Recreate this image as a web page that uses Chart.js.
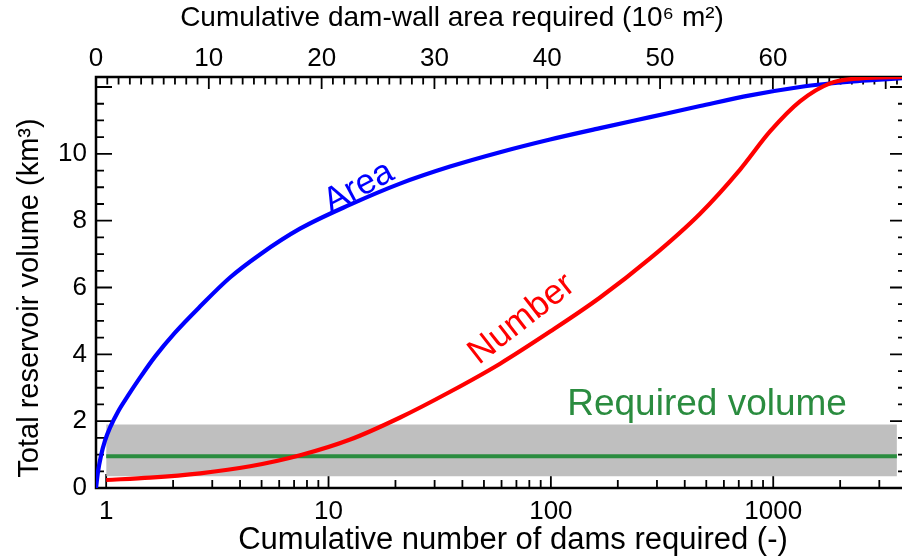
<!DOCTYPE html>
<html>
<head>
<meta charset="utf-8">
<script src="https://cdn.jsdelivr.net/npm/chart.js@4"></script>
<style>
  html, body { margin: 0; padding: 0; background: #fff; overflow: hidden; }
  #wrap { width: 910px; height: 559px; }
</style>
</head>
<body>
<div id="wrap"><canvas id="c" width="910" height="559"></canvas></div>
<script>
// Storage curve against number of dams (bottom, log axis)
const damCount = [1, 1.577, 2.647, 4.442, 7.455, 12.51, 20.99, 35.22, 59.1, 99.2, 166.4, 279.3, 468.7, 709.4, 967.4, 1319, 1800, 2457, 3955];
const numberVolume = [0.24, 0.31, 0.44, 0.65, 0.98, 1.45, 2.11, 2.88, 3.72, 4.68, 5.70, 6.87, 8.21, 9.53, 10.67, 11.57, 12.11, 12.26, 12.3];

// Storage curve against dam-wall area (top axis, 10^6 m2)
const wallArea = [0, 0.177, 0.443, 0.798, 1.241, 1.95, 2.837, 3.901, 5.23, 7.004, 9.22, 11.879, 14.539, 18.085, 22.518, 26.95, 31.383, 35.816, 40.248, 44.681, 49.113, 53.546, 57.979, 62.411, 64.63, 66.844, 69.06, 71.809];
const areaVolume = [0, 0.488, 0.967, 1.416, 1.805, 2.284, 2.763, 3.302, 3.931, 4.65, 5.43, 6.30, 6.99, 7.76, 8.48, 9.11, 9.62, 10.05, 10.43, 10.77, 11.10, 11.43, 11.75, 12.0, 12.09, 12.16, 12.21, 12.27];

// Required volume and its uncertainty band (km3)
const bandDams = [1, 3600];
const requiredVolume = 0.95;
const bandLow = 0.35;
const bandHigh = 1.9;

// Tick labels
const volumeTicks = [0, 2, 4, 6, 8, 10];
const damTicks = [1, 10, 100, 1000];
const areaTicks = [0, 10, 20, 30, 40, 50, 60];

const FONT = '"Liberation Sans", Arial, Helvetica, sans-serif';
const GREEN = '#2a8c3f';

// Inward tick marks on all four sides plus the box frame
const frameTicks = {
  id: 'frameTicks',
  beforeDatasetsDraw(chart) {
    const { ctx, chartArea: a, scales } = chart;
    ctx.save();
    ctx.strokeStyle = '#000';
    ctx.lineWidth = 1.8;
    ctx.beginPath();
    for (let v = 0; v <= 12.01; v += 0.5) {
      const py = scales.y.getPixelForValue(v);
      const len = (Math.abs(v % 2) < 1e-6) ? 16 : 8;
      ctx.moveTo(a.left, py); ctx.lineTo(a.left + len, py);
      ctx.moveTo(a.right, py); ctx.lineTo(a.right - len, py);
    }
    for (let d = 1; d <= 1000; d *= 10) {
      for (let k = 1; k <= 9; k++) {
        const v = d * k;
        if (v > scales.x.max) break;
        const px = scales.x.getPixelForValue(v);
        const len = k === 1 ? 14 : 8;
        ctx.moveTo(px, a.bottom); ctx.lineTo(px, a.bottom - len);
      }
    }
    for (let v = 0; v <= 71; v += 1) {
      const px = scales.x2.getPixelForValue(v);
      const len = v % 10 === 0 ? 12 : 7.5;
      ctx.moveTo(px, a.top); ctx.lineTo(px, a.top + len);
    }
    ctx.stroke();
    ctx.lineWidth = 2.5;
    ctx.strokeRect(a.left, a.top, a.right - a.left, a.bottom - a.top);
    ctx.restore();
  }
};

function putText(ctx, text, px, py, angle, color, size) {
  ctx.save();
  ctx.translate(px, py);
  ctx.rotate(angle * Math.PI / 180);
  ctx.fillStyle = color;
  ctx.font = size + 'px ' + FONT;
  ctx.textAlign = 'center';
  ctx.textBaseline = 'middle';
  ctx.fillText(text, 0, 0);
  ctx.restore();
}

// Axis titles and curve names
const labels = {
  id: 'labels',
  afterDraw(chart) {
    const { ctx, scales } = chart;
    putText(ctx, 'Cumulative dam-wall area required (10\u2076 m\u00b2)', 452, 18, 0, '#000', 28);
    putText(ctx, 'Cumulative number of dams required (-)', 513, 540, 0, '#000', 31);
    putText(ctx, 'Total reservoir volume (km\u00b3)', 30, 298, -90, '#000', 29);
    putText(ctx, 'Area', scales.x2.getPixelForValue(23.3), scales.y.getPixelForValue(9.0), -28, '#0000ff', 35);
    putText(ctx, 'Number', scales.x.getPixelForValue(74), scales.y.getPixelForValue(5.05), -38, '#ff0000', 35);
    putText(ctx, 'Required volume', scales.x.getPixelForValue(504), scales.y.getPixelForValue(2.5), 0, GREEN, 37);
  }
};

const tickFont = { family: FONT, size: 26 };

new Chart(document.getElementById('c'), {
  type: 'line',
  data: {
    datasets: [
      {
        label: 'band',
        data: bandDams.map(x => ({ x, y: bandHigh })),
        xAxisID: 'x', yAxisID: 'y',
        fill: { value: bandLow },
        backgroundColor: '#bfbfbf',
        borderWidth: 0, pointRadius: 0, order: 4
      },
      {
        label: 'Required volume',
        data: bandDams.map(x => ({ x, y: requiredVolume })),
        xAxisID: 'x', yAxisID: 'y',
        borderColor: GREEN, borderWidth: 4, pointRadius: 0, fill: false, order: 3
      },
      {
        label: 'Area',
        data: wallArea.map((x, i) => ({ x, y: areaVolume[i] })),
        xAxisID: 'x2', yAxisID: 'y',
        borderColor: '#0000ff', borderWidth: 4.2, pointRadius: 0, fill: false,
        cubicInterpolationMode: 'monotone', order: 2
      },
      {
        label: 'Number',
        data: damCount.map((x, i) => ({ x, y: numberVolume[i] })),
        xAxisID: 'x', yAxisID: 'y',
        borderColor: '#ff0000', borderWidth: 4.2, pointRadius: 0, fill: false,
        cubicInterpolationMode: 'monotone', order: 1
      }
    ]
  },
  options: {
    responsive: false,
    animation: false,
    layout: { padding: 0 },
    plugins: { legend: { display: false }, tooltip: { enabled: false } },
    scales: {
      x: {
        type: 'logarithmic', position: 'bottom', min: 0.9, max: 3955,
        afterBuildTicks: s => { s.ticks = damTicks.map(v => ({ value: v })); },
        afterFit: s => { s.height = 71; },
        ticks: { autoSkip: false, maxRotation: 0, padding: 8, color: '#000', font: tickFont, callback: v => String(v) },
        grid: { display: false, drawTicks: false },
        border: { display: false }
      },
      x2: {
        type: 'linear', position: 'top', min: 0, max: 71.8,
        afterBuildTicks: s => { s.ticks = areaTicks.map(v => ({ value: v })); },
        afterFit: s => { s.height = 77; },
        ticks: { autoSkip: false, maxRotation: 0, padding: 3, color: '#000', font: tickFont, callback: v => String(v) },
        grid: { display: false, drawTicks: false },
        border: { display: false }
      },
      y: {
        type: 'linear', position: 'left', min: 0, max: 12.3,
        afterBuildTicks: s => { s.ticks = volumeTicks.map(v => ({ value: v })); },
        afterFit: s => { s.width = 96; },
        ticks: { padding: 9, color: '#000', font: tickFont, callback: v => String(v) },
        grid: { display: false, drawTicks: false },
        border: { display: false }
      },
      y2: {
        type: 'linear', position: 'right', min: 0, max: 12.3,
        afterFit: s => { s.width = 4; },
        ticks: { display: false },
        grid: { display: false, drawTicks: false },
        border: { display: false }
      }
    }
  },
  plugins: [frameTicks, labels]
});
</script>
</body>
</html>
